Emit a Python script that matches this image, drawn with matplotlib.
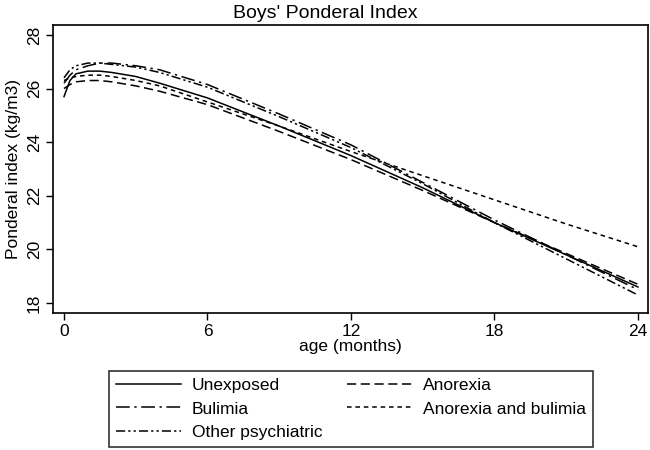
import matplotlib
matplotlib.use("Agg")
import matplotlib.pyplot as plt

plt.rcParams['font.family'] = ['Liberation Sans', 'DejaVu Sans']

age = [0, 0.25, 0.5, 1, 1.5, 2, 3, 4, 6, 9, 12, 15, 18, 21, 24]
unexposed = [25.7, 26.3, 26.55, 26.65, 26.65, 26.6, 26.45, 26.2, 25.65, 24.6, 23.5, 22.3, 21.0, 19.8, 18.6]
anorexia = [26.0, 26.15, 26.25, 26.3, 26.3, 26.25, 26.1, 25.9, 25.4, 24.4, 23.35, 22.2, 21.0, 19.85, 18.7]
bulimia = [26.2, 26.5, 26.7, 26.85, 26.95, 26.95, 26.85, 26.7, 26.15, 25.05, 23.9, 22.5, 21.1, 19.8, 18.5]
anorexia_bulimia = [26.3, 26.4, 26.45, 26.5, 26.5, 26.45, 26.3, 26.1, 25.5, 24.6, 23.65, 22.75, 21.85, 20.95, 20.1]
other_psych = [26.4, 26.7, 26.85, 26.95, 26.95, 26.9, 26.8, 26.6, 26.05, 24.95, 23.8, 22.45, 21.0, 19.65, 18.3]

series_labels = ["Unexposed", "Anorexia", "Bulimia", "Anorexia and bulimia", "Other psychiatric"]
xticks = [0, 6, 12, 18, 24]
yticks = [18, 20, 22, 24, 26, 28]

fig = plt.figure(figsize=(6.5, 4.5), dpi=100)
ax = fig.add_axes([53/650, 1-313/450, 595/650, 288/450])

lw = 1.1
h_un, = ax.plot(age, unexposed, color='black', lw=lw, linestyle='-', label=series_labels[0])
h_an, = ax.plot(age, anorexia, color='black', lw=lw, linestyle=(0, (6, 3)), label=series_labels[1])
h_bu, = ax.plot(age, bulimia, color='black', lw=lw, linestyle=(0, (9, 3, 1.5, 3)), label=series_labels[2])
h_ab, = ax.plot(age, anorexia_bulimia, color='black', lw=lw, linestyle=(0, (3, 2.5)), label=series_labels[3])
h_op, = ax.plot(age, other_psych, color='black', lw=lw, linestyle=(0, (6, 2, 1.5, 2, 1.5, 2)), label=series_labels[4])

ax.set_xlim(-0.46, 24.42)
ax.set_ylim(17.63, 28.37)
ax.set_xticks(xticks)
ax.set_yticks(yticks)
ax.tick_params(axis='both', labelsize=12.5, length=5, width=1, direction='out', pad=3)
for lab in ax.get_yticklabels():
    lab.set_rotation(90)
    lab.set_va('center')
for sp in ax.spines.values():
    sp.set_linewidth(1.2)

ax.set_xlabel("age (months)", fontsize=12.5, labelpad=0)
ax.set_ylabel("Ponderal index (kg/m3)", fontsize=12.5, labelpad=4)
fig.text(325/650, 1-13/450, "Boys' Ponderal Index", fontsize=14, ha='center', va='center')

handles = [h_un, h_bu, h_op, h_an, h_ab]
labels = [h.get_label() for h in handles]
leg = fig.legend(handles, labels, loc='center', bbox_to_anchor=(351/650, 1-409/450), ncol=2,
                 fontsize=12.5, frameon=True, fancybox=False, edgecolor='black', handlelength=3.75,
                 columnspacing=1.45, labelspacing=0.49, borderpad=0.4, handletextpad=0.63,
                 borderaxespad=0)
leg.get_frame().set_linewidth(1.2)

fig.savefig("out.png", dpi=100, facecolor='white')
